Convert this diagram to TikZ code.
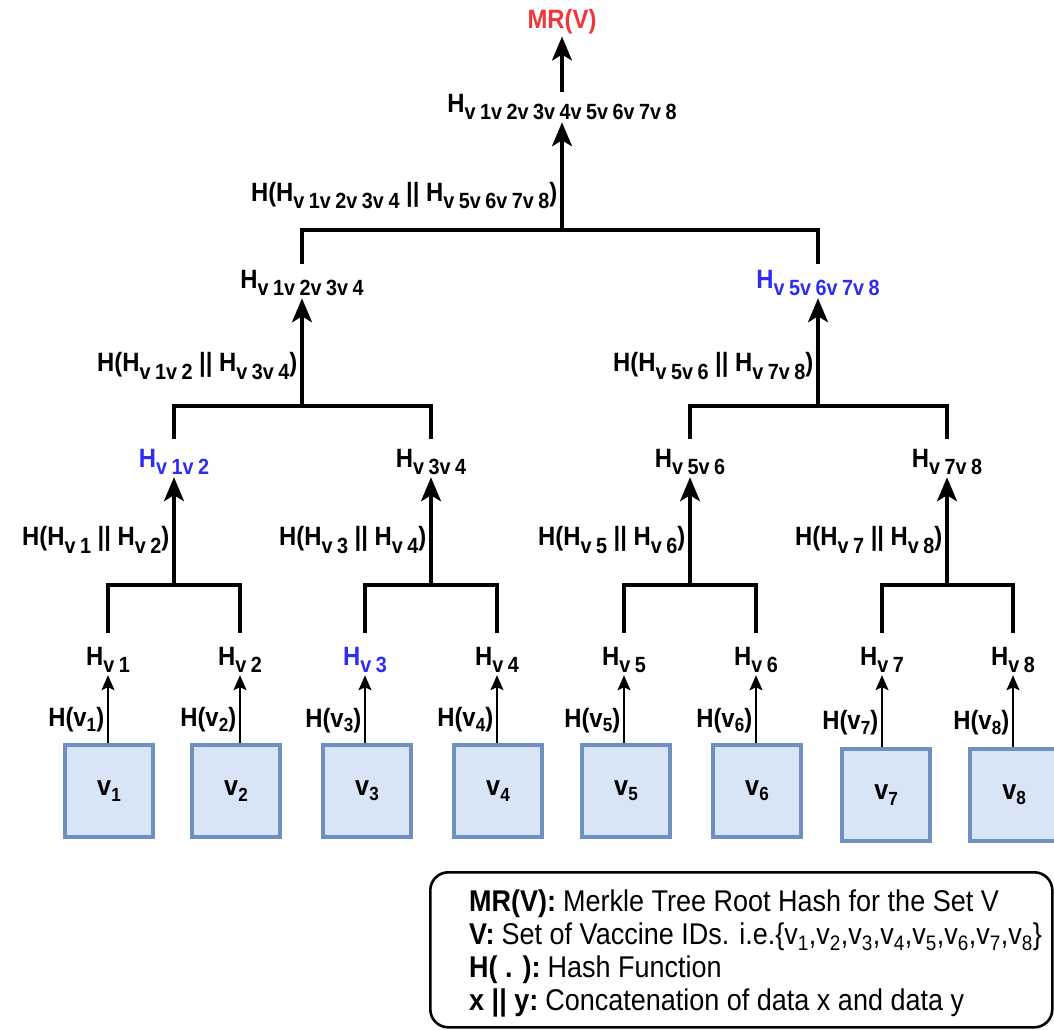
\documentclass[tikz,border=0pt]{standalone}
\usepackage{fontspec}
\setmainfont{Liberation Sans}[FakeStretch=0.9]
\usetikzlibrary{arrows.meta}

\definecolor{leaffill}{RGB}{216,229,246}
\definecolor{leafline}{RGB}{110,143,192}
\definecolor{hiblue}{RGB}{45,45,245}
\definecolor{rootred}{RGB}{238,55,60}

% H with a lowered index string, and the pieces of that string
\newcommand\hsubidx[1]{\raisebox{-0.55ex}{\fontsize{22}{22}\selectfont#1}}
\newcommand\hv[1]{H\hsubidx{#1}}
\newcommand\vk[1]{v\kern4.5pt#1}
\newcommand\lowidx[1]{\raisebox{-0.35ex}{\fontsize{19}{19}\selectfont#1}}

\tikzset{
  lbl/.style={font=\bfseries\fontsize{26.5}{30}\selectfont, inner xsep=1pt, inner ysep=2pt},
  leafbox/.style={draw=leafline, fill=leaffill, line width=3.5pt,
    minimum width=88pt, minimum height=92pt, font=\bfseries\fontsize{28}{30}\selectfont},
  thinarrow/.style={line width=1.6pt, -{Stealth[length=15pt,width=13pt,inset=3pt]}},
  thickarrow/.style={line width=3.2pt, -{Stealth[length=24pt,width=20pt,inset=6pt]}},
  bracket/.style={line width=3.6pt, line join=miter},
  edgelbl/.style={lbl, left=3pt, inner sep=0pt},
  legendbox/.style={draw, line width=2.6pt, rounded corners=18pt,
    minimum width=622pt, minimum height=155pt},
}

\begin{document}
\begin{tikzpicture}[x=1pt, y=-1pt]
\fill[white] (0,0) rectangle (1054,1029);
\useasboundingbox (0,0) rectangle (1054,1029);

% data blocks
\node[leafbox] (b1) at (109,791) {v\lowidx{1}};
\node[leafbox] (b2) at (236,791) {v\lowidx{2}};
\node[leafbox] (b3) at (367,791) {v\lowidx{3}};
\node[leafbox] (b4) at (498,791) {v\lowidx{4}};
\node[leafbox] (b5) at (626,791) {v\lowidx{5}};
\node[leafbox] (b6) at (757,791) {v\lowidx{6}};
\node[leafbox] (b7) at (886,795) {v\lowidx{7}};
\node[leafbox] (b8) at (1014,795) {v\lowidx{8}};

% leaf hashes
\node[lbl] (h1) at (108,660) {\hv{\vk1}};
\node[lbl] (h2) at (240,660) {\hv{\vk2}};
\node[lbl, text=hiblue] (h3) at (365,660) {\hv{\vk3}};
\node[lbl] (h4) at (497,660) {\hv{\vk4}};
\node[lbl] (h5) at (624,660) {\hv{\vk5}};
\node[lbl] (h6) at (756,660) {\hv{\vk6}};
\node[lbl] (h7) at (882,660) {\hv{\vk7}};
\node[lbl] (h8) at (1013,660) {\hv{\vk8}};

\foreach \i in {1,...,8} {
  \draw[thinarrow] (b\i.north -| h\i) -- node[edgelbl, pos=0.34] {H(v\lowidx{\i})} (h\i.south);
}

% level 1
\node[lbl, text=hiblue] (h12) at (174,462) {\hv{\vk1\vk2}};
\node[lbl] (h34) at (431,462) {\hv{\vk3\vk4}};
\node[lbl] (h56) at (690,462) {\hv{\vk5\vk6}};
\node[lbl] (h78) at (947,462) {\hv{\vk7\vk8}};

\coordinate (j12) at (174,585);
\coordinate (j34) at (431,585);
\coordinate (j56) at (690,585);
\coordinate (j78) at (947,585);

\draw[bracket] ([yshift=12pt]h1.north) |- (j12) -| ([yshift=12pt]h2.north);
\draw[bracket] ([yshift=12pt]h3.north) |- (j34) -| ([yshift=12pt]h4.north);
\draw[bracket] ([yshift=12pt]h5.north) |- (j56) -| ([yshift=12pt]h6.north);
\draw[bracket] ([yshift=12pt]h7.north) |- (j78) -| ([yshift=12pt]h8.north);

\draw[thickarrow] (j12) -- node[edgelbl, pos=0.42] {H(\hv{\vk1} || \hv{\vk2})} (h12.south);
\draw[thickarrow] (j34) -- node[edgelbl, pos=0.42] {H(\hv{\vk3} || \hv{\vk4})} (h34.south);
\draw[thickarrow] (j56) -- node[edgelbl, pos=0.42] {H(\hv{\vk5} || \hv{\vk6})} (h56.south);
\draw[thickarrow] (j78) -- node[edgelbl, pos=0.42] {H(\hv{\vk7} || \hv{\vk8})} (h78.south);

% level 2
\node[lbl] (h1234) at (302,283) {\hv{\vk1\vk2\vk3\vk4}};
\node[lbl, text=hiblue] (h5678) at (818,283) {\hv{\vk5\vk6\vk7\vk8}};

\coordinate (j1234) at (302,406);
\coordinate (j5678) at (818,406);

\draw[bracket] ([yshift=8pt]h12.north) |- (j1234) -| ([yshift=8pt]h34.north);
\draw[bracket] ([yshift=8pt]h56.north) |- (j5678) -| ([yshift=8pt]h78.north);

\draw[thickarrow] (j1234) -- node[edgelbl, pos=0.37] {H(\hv{\vk1\vk2} || \hv{\vk3\vk4})} (h1234.south);
\draw[thickarrow] (j5678) -- node[edgelbl, pos=0.37] {H(\hv{\vk5\vk6} || \hv{\vk7\vk8})} (h5678.south);

% root
\node[lbl] (hroot) at (562,107) {\hv{\vk1\vk2\vk3\vk4\vk5\vk6\vk7\vk8}};
\node[lbl, text=rootred] (mr) at (562,22) {MR(V)};

\coordinate (jroot) at (562,230);
\draw[bracket] ([yshift=4pt]h1234.north) |- (jroot) -| ([yshift=4pt]h5678.north);

\draw[thickarrow] (jroot) -- node[edgelbl, pos=0.32] {H(\hv{\vk1\vk2\vk3\vk4} || \hv{\vk5\vk6\vk7\vk8})} (hroot.south);
\draw[thickarrow] (hroot.north) -- (mr.south);

% key
\node[legendbox, anchor=north west] (legend) at (429,871) {};
\node[anchor=west, align=left, inner sep=0pt, font=\fontsize{30}{33}\selectfont]
  (legendtext) at ([xshift=40pt, yshift=-4pt]legend.west) {%
  \textbf{MR(V):}\kern7pt Merkle Tree Root Hash for the Set V\\
  \textbf{V:}\kern7pt Set of Vaccine IDs. i.e.\{v\textsubscript{1},v\textsubscript{2},v\textsubscript{3},v\textsubscript{4},v\textsubscript{5},v\textsubscript{6},v\textsubscript{7},v\textsubscript{8}\}\\
  \textbf{H( . ):}\kern7pt Hash Function\\
  \textbf{x || y:}\kern7pt Concatenation of data x and data y};
\end{tikzpicture}
\end{document}
